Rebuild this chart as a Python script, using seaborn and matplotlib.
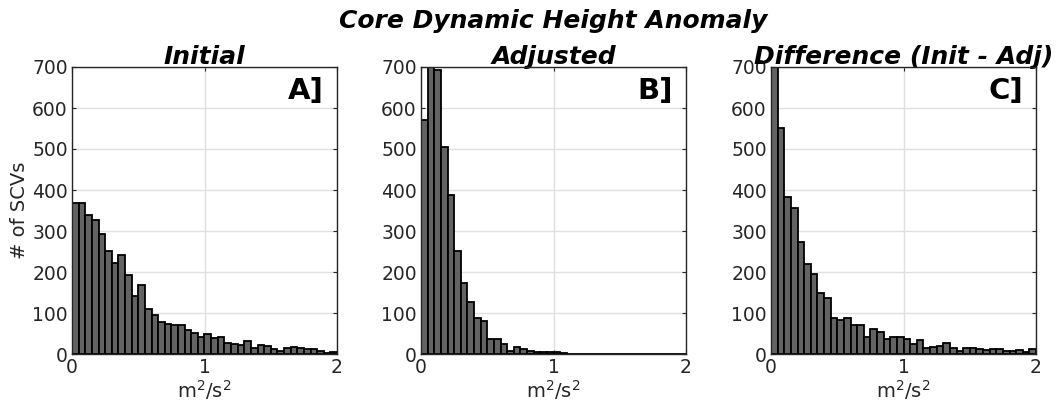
import numpy as np
import pandas as pd
import matplotlib
matplotlib.use("Agg")
import matplotlib.pyplot as plt
import seaborn as sns

# bin layout: 0 to 2 in steps of 0.05
bin_start, bin_stop, bin_width = 0.0, 2.0, 0.05

initial_counts = [369, 369, 340, 328, 293, 252, 222, 241, 193, 142,
                  168, 110, 94, 78, 73, 70, 70, 59, 52, 42,
                  50, 38, 42, 27, 25, 23, 32, 14, 21, 20,
                  12, 7, 15, 18, 15, 13, 13, 7, 3, 6]

adjusted_counts = [571, 720, 692, 506, 388, 251, 173, 127, 88, 80,
                   37, 37, 24, 7, 16, 12, 7, 4, 6, 4,
                   5, 2, 1, 1, 1, 1, 1, 0, 0, 0,
                   0, 0, 0, 0, 0, 0, 0, 0, 0, 0]

difference_counts = [720, 552, 384, 356, 272, 220, 194, 150, 136, 89,
                     82, 87, 70, 71, 41, 62, 54, 37, 42, 41,
                     36, 24, 34, 15, 18, 20, 26, 15, 7, 14,
                     14, 11, 10, 11, 11, 7, 8, 10, 5, 11]

panel_titles = ["Initial", "Adjusted", "Difference (Init - Adj)"]
panel_tags = ["A]", "B]", "C]"]
suptitle = "Core Dynamic Height Anomaly"
ylabel = "# of SCVs"
xlabel = "m$^2$/s$^2$"
yticks = [0, 100, 200, 300, 400, 500, 600, 700]
xticks = [0, 1, 2]

sns.set_theme(style="white")
plt.rcParams["font.family"] = ["DejaVu Sans"]

fig = plt.figure(figsize=(10.58, 4.15), dpi=100)
lefts = [72 / 1058, 421 / 1058, 771 / 1058]
width = 265 / 1058
bottom = 1 - 354 / 415
height = (354 - 67) / 415

n_bins = int(round((bin_stop - bin_start) / bin_width))
centers = bin_start + bin_width * (np.arange(n_bins) + 0.5)
all_counts = [initial_counts, adjusted_counts, difference_counts]

for i, counts in enumerate(all_counts):
    ax = fig.add_axes([lefts[i], bottom, width, height])
    df = pd.DataFrame({"x": centers, "w": np.asarray(counts, dtype=float)})
    sns.histplot(data=df, x="x", weights="w", binwidth=bin_width,
                 binrange=(bin_start, bin_stop), ax=ax,
                 color="#636363", edgecolor="black", linewidth=1.3,
                 alpha=1.0, zorder=3)
    ax.set_xlim(0, 2)
    ax.set_ylim(0, 700)
    ax.set_xticks(xticks)
    ax.set_yticks(yticks)
    ax.grid(True, color="#e0e0e0", linewidth=1.0, zorder=0)
    ax.set_axisbelow(True)
    ax.tick_params(direction="in", length=3, width=0.8, colors="#262626",
                   labelsize=13.5, top=True, right=True, pad=3,
                   bottom=True, left=True)
    for s in ax.spines.values():
        s.set_color("#262626")
        s.set_linewidth(1.0)
        s.set_zorder(5)
    ax.set_xlabel(xlabel, fontsize=14, color="#262626", labelpad=1)
    if i == 0:
        ax.set_ylabel(ylabel, fontsize=14, color="#262626", labelpad=2)
    else:
        ax.set_ylabel("")
    ax.set_title(panel_titles[i], fontsize=18, fontweight="bold",
                 fontstyle="italic", color="black", pad=2)
    ax.text(0.95, 0.965, panel_tags[i], transform=ax.transAxes,
            ha="right", va="top", fontsize=21, fontweight="bold",
            color="black", zorder=6)

fig.text(0.523, 0.950, suptitle, ha="center", va="center", fontsize=18,
         fontweight="bold", fontstyle="italic", color="black")

fig.savefig("out.png", dpi=100)
